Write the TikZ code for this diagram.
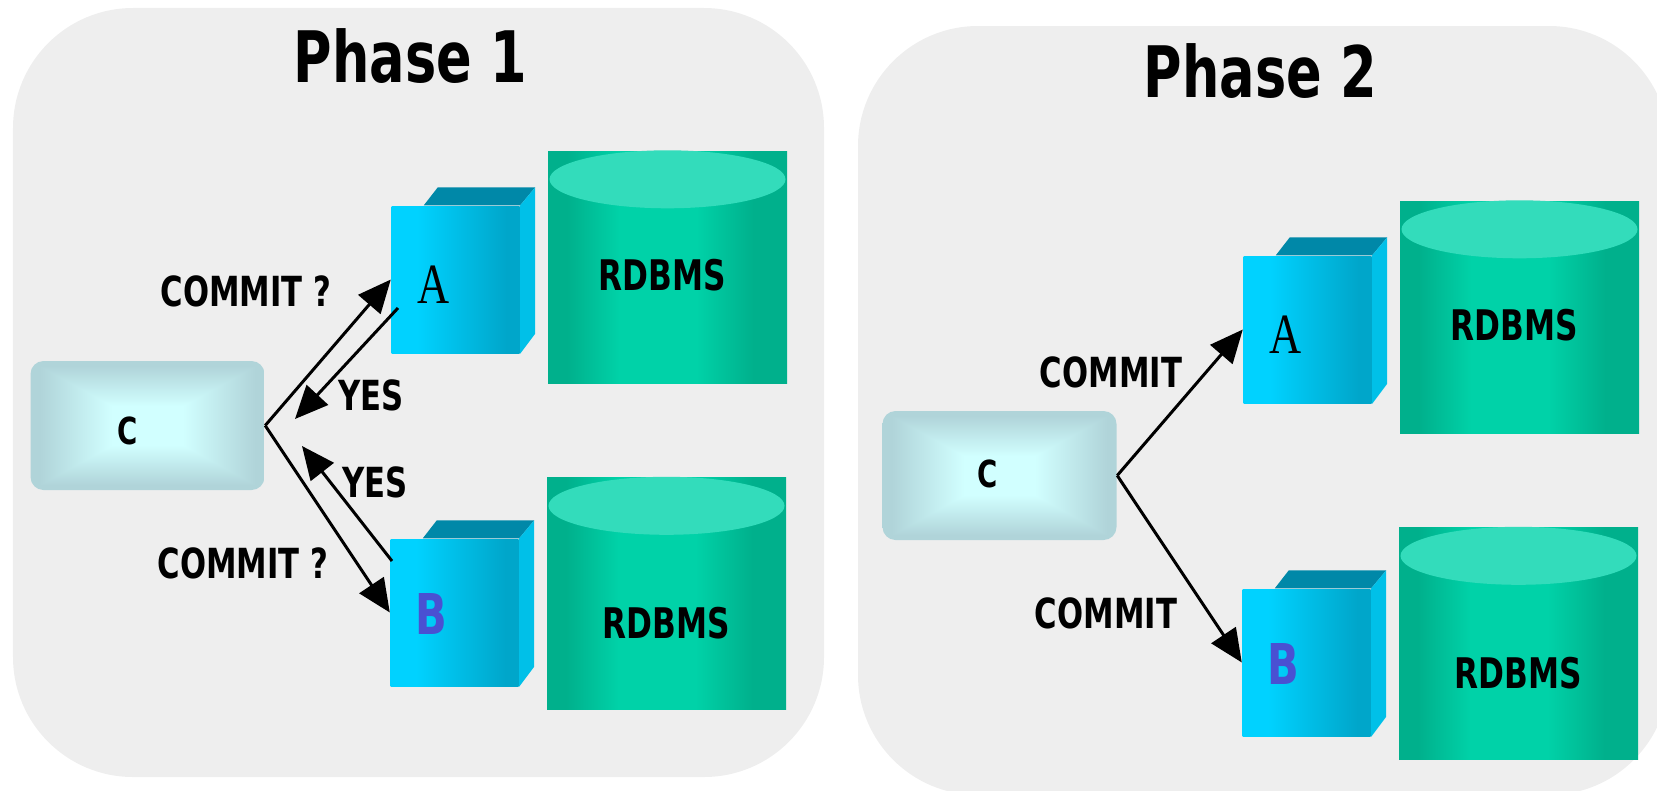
\documentclass[tikz,border=0pt]{standalone}
\usepackage{amsmath}
\usepackage{fontspec}
\usepackage{tikz}
\usetikzlibrary{positioning,arrows.meta,calc}
\newfontfamily\labelfont[FakeStretch=0.74]{DejaVu Sans}
\newfontfamily\letterfont[FakeStretch=0.78]{Liberation Serif}

\definecolor{panelgray}{HTML}{EEEEEE}
\definecolor{cubetop}{HTML}{0088A8}
\definecolor{cubeside}{HTML}{00C0E8}
\definecolor{dbtop}{HTML}{33DCBB}
\definecolor{letterblue}{HTML}{4A50D2}
\definecolor{cubefrontL}{HTML}{00D2FF}
\definecolor{cubefrontR}{HTML}{00A6CA}
\definecolor{dbdark}{HTML}{00B08C}
\definecolor{dblight}{HTML}{00D2A8}

\pgfdeclarehorizontalshading{cubefront}{100bp}{color(0bp)=(cubefrontL); color(35bp)=(cubefrontL); color(70bp)=(cubefrontR); color(100bp)=(cubefrontR)}
\pgfdeclarehorizontalshading{dbbody}{100bp}{color(0bp)=(dbdark); color(29bp)=(dbdark); color(40bp)=(dblight); color(56bp)=(dblight); color(68bp)=(dbdark); color(100bp)=(dbdark)}
\pgfdeclarefunctionalshading{cglow}{\pgfpoint{-50bp}{-50bp}}{\pgfpoint{50bp}{50bp}}{}{
 abs 25 div exch abs 25 div 2 copy gt {pop} {exch pop} ifelse
 0.3 sub 1.6 mul dup 0 lt {pop 0} if dup 1 gt {pop 1} if
 dup dup 0.13 mul 0.82 exch sub 3 1 roll
 0.17 mul 1 exch sub exch
 0.15 mul 1 exch sub
}

\tikzset{
	panel/.style={fill=panelgray,rounded corners=1.2cm,minimum width=8.11cm,minimum height=7.69cm,inner sep=0},
	cbox/.style={shading=cglow,rounded corners=.13cm,minimum width=2.34cm,minimum height=1.29cm,inner sep=0},
	cubebox/.style={shading=cubefront,minimum width=1.28cm,minimum height=1.47cm,inner sep=0,on grid},
	dbbox/.style={shading=dbbody,minimum width=2.39cm,minimum height=2.32cm,inner sep=0,on grid},
	clabel/.style={inner sep=0,on grid,font=\labelfont\bfseries\fontsize{10.6}{12}\selectfont},
	msg/.style={inner sep=0,on grid,font=\labelfont\bfseries\fontsize{11.8}{14}\selectfont},
	dbname/.style={inner sep=0,on grid,font=\labelfont\bfseries\fontsize{12}{14}\selectfont},
	title/.style={inner sep=0,on grid,font=\labelfont\bfseries\fontsize{20.2}{24}\selectfont},
	letterA/.style={inner sep=0,on grid,font=\letterfont\fontsize{16.2}{18}\selectfont},
	letterB/.style={inner sep=0,on grid,text=letterblue,font=\labelfont\bfseries\fontsize{16}{18}\selectfont},
	link/.style={line width=.85pt,-{Triangle[length=.33cm,width=.29cm]}}
}

% top and side of a cube, #1 is the front node
\newcommand{\cubefaces}[1]{
	\fill[cubetop] ($(#1.north west)+(.33,0)$) -- ($(#1.north west)+(.47,.18)$) -- ($(#1.north east)+(.15,.18)$) -- (#1.north east) -- cycle;
	\fill[cubeside] (#1.north east) -- ($(#1.north east)+(.15,.18)$) -- ($(#1.south east)+(.15,.2)$) -- (#1.south east) -- cycle;
}
% lid of a cylinder, #1 is the body node
\newcommand{\dblid}[1]{
	\fill[dbtop] ($(#1.north)+(0,-.29)$) ellipse (1.18 and .29);
}

\begin{document}
\begin{tikzpicture}
	\clip (0,0) rectangle (16.57,7.9);
	\node[panel] (p1) at (4.185,3.975) {};
	\node[panel] (p2) at (12.635,3.795) {};

	%% phase 1
	\node[cbox] (c1) at (1.475,3.645) {};
	\node[clabel,above right=-.055 and -.195 of c1] (lc1) {C};
	\node[title,above right=3.69 and 2.63 of c1] (t1) {Phase 1};
	\node[cubebox,above right=1.46 and 3.08 of c1] (a1) {}; % upper
	\node[cubebox,above right=-1.87 and 3.07 of c1] (b1) {}; % lower
	\node[dbbox,above right=1.585 and 5.2 of c1] (d1) {};
	\node[dbbox,above right=-1.68 and 5.19 of c1] (e1) {};
	\cubefaces{a1}
	\cubefaces{b1}
	\dblid{d1}
	\dblid{e1}
	\node[letterA,above right=1.405 and 2.865 of c1] (la1) {A};
	\node[letterB,above right=-1.88 and 2.835 of c1] (lb1) {B};
	\node[dbname,above right=1.5 and 5.145 of c1] (n1) {RDBMS};
	\node[dbname,above right=-1.98 and 5.19 of c1] (m1) {RDBMS};
	\node[msg,above right=1.345 and .985 of c1] (q1) {COMMIT ?};
	\node[msg,above right=-1.375 and .955 of c1] (r1) {COMMIT ?};
	\node[msg,above right=.305 and 2.235 of c1] (y1) {YES};
	\node[msg,above right=-.565 and 2.275 of c1] (z1) {YES};
	\coordinate[on grid,above right=1.175 and 2.505 of c1] (ya1); % from A
	\coordinate[on grid,above right=.065 and 1.475 of c1] (ya2);
	\coordinate[on grid,above right=-1.355 and 2.445 of c1] (yb1); % from B
	\coordinate[on grid,above right=-.205 and 1.545 of c1] (yb2);
	% lines between the boxes
	\draw[link] (c1.east) -- (a1.west);
	\draw[link] (c1.east) -- (b1.west);
	\draw[link] (ya1) -- (ya2);
	\draw[link] (yb1) -- (yb2);

	%% phase 2
	\node[cbox] (c2) at (9.995,3.145) {};
	\node[clabel,above right=.02 and -.115 of c2] (lc2) {C};
	\node[title,above right=4.04 and 2.61 of c2] (t2) {Phase 2};
	\node[cubebox,above right=1.46 and 3.08 of c2] (a2) {}; % upper
	\node[cubebox,above right=-1.87 and 3.07 of c2] (b2) {}; % lower
	\node[dbbox,above right=1.585 and 5.2 of c2] (d2) {};
	\node[dbbox,above right=-1.68 and 5.19 of c2] (e2) {};
	\cubefaces{a2}
	\cubefaces{b2}
	\dblid{d2}
	\dblid{e2}
	\node[letterA,above right=1.405 and 2.865 of c2] (la2) {A};
	\node[letterB,above right=-1.88 and 2.835 of c2] (lb2) {B};
	\node[dbname,above right=1.5 and 5.145 of c2] (n2) {RDBMS};
	\node[dbname,above right=-1.98 and 5.19 of c2] (m2) {RDBMS};
	\node[msg,above right=1.035 and 1.115 of c2] (q2) {COMMIT};
	\node[msg,above right=-1.375 and 1.065 of c2] (r2) {COMMIT};
	% lines between the boxes
	\draw[link] (c2.east) -- (a2.west);
	\draw[link] (c2.east) -- (b2.west);
\end{tikzpicture}
\end{document}
